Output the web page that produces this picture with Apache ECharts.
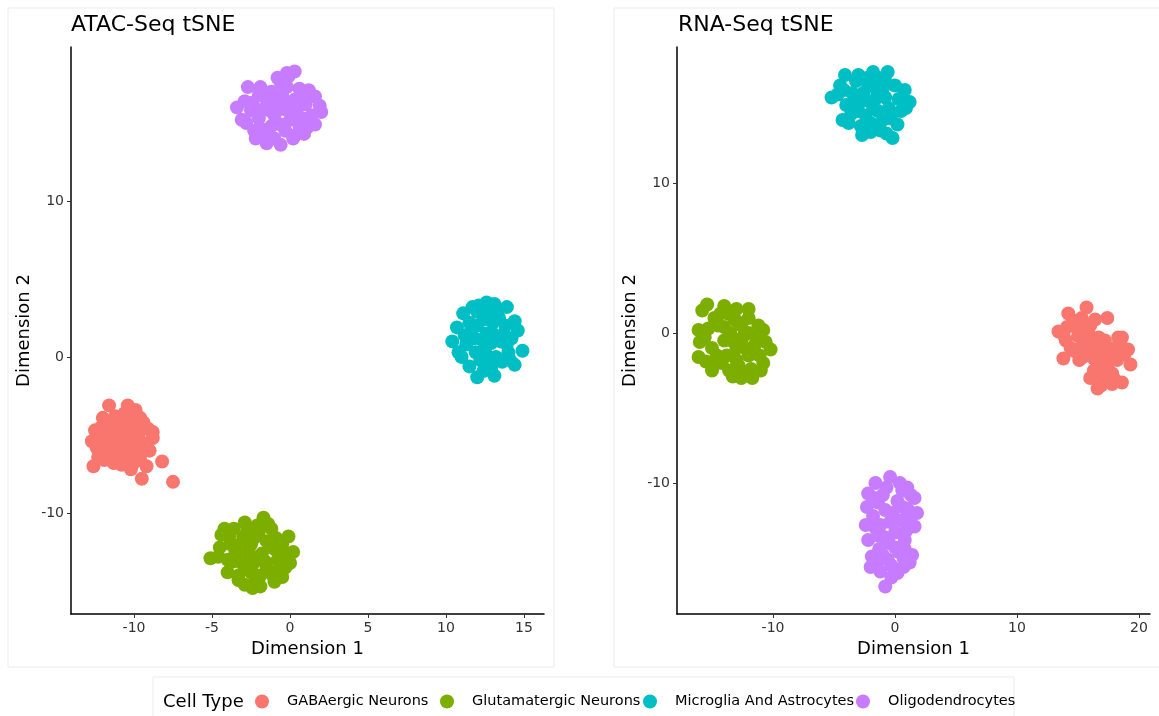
<!DOCTYPE html>
<html>
<head>
<meta charset="utf-8">
<title>ATAC-Seq / RNA-Seq tSNE</title>
<script src="https://cdn.jsdelivr.net/npm/echarts@6/dist/echarts.min.js"></script>
<style>
  html, body { margin: 0; padding: 0; background: #ffffff; }
  #chart { width: 1159px; height: 716px; }
</style>
</head>
<body>
<div id="chart"></div>
<script>
// Cell type categories and their colours
const cellTypes = ['GABAergic Neurons', 'Glutamatergic Neurons', 'Microglia And Astrocytes', 'Oligodendrocytes'];
const cellColors = ['#F8766D', '#7CAE00', '#00BFC4', '#C77CFF'];

// Tick values for each panel
const atacXTicks = [-10, -5, 0, 5, 10, 15];
const atacYTicks = [-10, 0, 10];
const rnaXTicks = [-10, 0, 10, 20];
const rnaYTicks = [-10, 0, 10];

// ATAC-Seq tSNE embedding, [Dimension 1, Dimension 2]
const atacGaba = [
  [-11.6,-3.1],[-10.4,-3.1],[-12.0,-3.9],[-9.6,-3.9],[-12.5,-4.7],[-12.7,-5.4],[-8.8,-4.8],[-8.8,-5.2],
  [-9.0,-6.0],[-8.2,-6.7],[-7.5,-8.0],[-9.5,-7.8],[-12.6,-7.0],[-12.3,-6.4],[-9.2,-7.0],[-10.1,-6.9],
  [-10.9,-6.6],[-11.0,-4.5],[-10.5,-5.0],[-11.5,-5.5],[-10.0,-5.8],[-11.8,-4.8],[-10.8,-6.0],[-9.8,-4.5],
  [-11.2,-3.8],[-10.2,-4.0],[-12.0,-6.0],[-11.5,-6.3],[-10.5,-6.5],[-9.5,-5.5],[-10.0,-6.3],[-11.0,-5.0],
  [-10.7,-4.3],[-9.3,-6.0],[-12.2,-5.2],[-11.3,-6.8],[-9.7,-5.0],
  [-11.4,-4.2],[-10.9,-5.4],[-10.3,-5.4],[-11.7,-5.9],[-10.6,-3.6],[-9.9,-3.4],[-11.9,-4.3],[-12.4,-5.8],
  [-11.1,-6.2],[-10.2,-7.2],[-9.6,-6.6],[-9.1,-4.6],[-10.4,-4.6],[-11.6,-5.1],[-12.1,-4.5],[-9.9,-5.2],
  [-10.8,-6.9],[-11.9,-6.6],[-9.4,-4.2],[-10.0,-3.7]
];
const atacGlut = [
  [-5.1,-12.9],[-4.2,-11.0],[-4.4,-11.4],[-2.9,-10.6],[-1.7,-10.3],[-0.1,-11.5],[0.2,-12.5],[0.0,-13.2],
  [-0.5,-14.1],[-2.4,-14.8],[-1.9,-14.7],[-3.3,-14.3],[-4.0,-13.8],[-1.1,-14.0],[-4.5,-12.2],[-3.0,-11.5],
  [-2.0,-11.2],[-1.5,-11.8],[-2.5,-12.0],[-3.5,-12.5],[-1.0,-12.3],[-2.0,-13.0],[-3.0,-13.3],[-1.5,-13.5],
  [-2.5,-13.8],[-0.8,-13.0],[-3.8,-12.0],[-2.7,-11.0],[-1.2,-11.0],[-0.5,-12.0],[-3.3,-14.0],[-2.2,-14.2],
  [-1.8,-12.6],[-4.0,-13.0],[-0.7,-13.6],
  [-2.3,-11.6],[-3.2,-12.0],[-1.3,-12.1],[-2.6,-12.6],[-1.6,-13.1],[-3.6,-13.1],[-2.8,-13.6],[-0.4,-12.7],
  [-1.0,-14.4],[-2.9,-14.6],[-3.9,-11.5],[-2.1,-10.8],[-0.9,-11.6],[-4.6,-12.8],[-3.1,-12.8],[-1.9,-14.0],
  [-0.3,-13.5],[-2.4,-13.3],[-3.6,-11.0],[-1.4,-10.7]
];
const atacMicro = [
  [12.0,-1.3],[13.1,-1.2],[14.4,-0.5],[14.9,0.4],[14.6,1.7],[13.9,3.2],[12.6,3.5],[11.7,3.2],
  [11.1,2.8],[10.7,1.9],[10.4,1.0],[10.8,0.3],[11.5,-0.6],[12.0,2.0],[13.0,2.2],[13.5,1.0],
  [12.5,0.5],[11.8,1.2],[13.8,2.0],[12.2,-0.2],[13.2,0.0],[14.0,0.3],[12.8,2.8],[11.5,2.2],
  [12.6,1.5],[13.6,-0.3],[11.3,0.8],[14.2,1.2],[12.0,2.9],[13.3,3.0],[12.9,-0.7],
  [12.3,1.1],[13.0,1.5],[12.7,0.0],[11.9,0.3],[13.4,2.5],[12.4,2.4],[14.1,-0.2],[11.6,1.6],
  [13.7,1.5],[12.1,3.3],[11.2,1.4],[13.9,0.8],[12.9,0.9],[12.4,-0.9],[14.4,2.3],[11.0,0.0],
  [13.1,3.4],[12.6,3.0]
];
const atacOligo = [
  [-2.7,17.3],[0.3,18.3],[-0.2,18.2],[-0.8,17.9],[-3.4,16.0],[-3.1,15.2],[-2.4,16.3],[-2.2,14.0],
  [-1.5,13.7],[-0.6,13.6],[0.3,14.2],[1.1,14.7],[2.0,15.7],[1.6,16.7],[1.2,17.1],[-1.5,16.5],
  [-0.5,16.8],[0.5,16.0],[-1.0,15.5],[-2.0,15.3],[0.0,15.2],[-0.3,14.5],[-1.8,14.6],[0.8,15.3],
  [-1.2,17.0],[-0.8,16.2],[0.3,16.5],[-2.5,15.8],[1.0,16.2],[-1.5,14.2],[0.6,14.8],[-0.2,17.3],
  [-1.0,14.0],[1.4,15.5],[-2.8,15.0],
  [-1.3,15.8],[-0.4,15.9],[-0.9,16.8],[0.1,15.7],[-1.7,15.9],[-0.6,14.9],[0.9,16.8],[-2.0,16.8],
  [-1.2,14.8],[0.2,14.0],[-2.3,14.5],[1.6,14.9],[-0.1,18.0],[-0.6,17.6],[0.6,17.2],[-1.9,17.3],
  [-2.9,16.4],[1.9,16.1],[-0.3,16.3],[0.9,14.3]
];

// RNA-Seq tSNE embedding, [Dimension 1, Dimension 2]
const rnaGaba = [
  [15.7,1.7],[14.2,1.3],[17.4,1.0],[13.4,0.1],[13.8,-1.7],[15.4,-1.6],[18.6,-0.3],[19.1,-1.1],
  [19.3,-2.1],[18.6,-3.3],[16.6,-3.7],[16.0,-3.0],[14.5,0.5],[15.0,-0.2],[14.0,-0.5],[15.5,0.3],
  [16.0,-0.5],[16.5,-1.0],[17.0,-1.5],[17.5,-2.0],[18.0,-1.0],[17.2,-0.5],[16.8,-2.3],[17.8,-2.7],
  [18.2,-1.8],[16.3,-1.7],[15.2,-1.0],[14.7,-1.2],[18.5,-0.8],[17.0,-2.9],[16.0,0.5],[15.8,-0.8],
  [14.8,0.8],[15.3,1.0],[14.1,0.4],[15.9,-0.1],[16.7,-0.3],[17.4,-1.1],[18.3,-0.3],[16.3,-2.5],
  [17.3,-2.4],[18.0,-3.1],[16.9,-3.5],[15.6,-1.3],[14.4,-1.0],[13.8,-0.1],[16.4,0.9],[17.6,-1.6],
  [18.8,-1.4],[16.9,-0.9],[15.1,-1.8],[17.8,-3.4]
];
const rnaGlut = [
  [-15.4,1.9],[-12.0,1.6],[-16.1,0.2],[-16.0,-0.6],[-16.1,-1.6],[-15.0,-2.5],[-13.3,-2.9],[-11.7,-3.0],
  [-10.8,-2.0],[-10.2,-1.1],[-10.8,0.2],[-14.3,1.3],[-13.7,1.3],[-14.5,0.5],[-13.0,0.8],[-12.0,0.0],
  [-14.0,-0.5],[-13.0,-1.0],[-12.0,-1.5],[-15.0,-1.0],[-14.2,-2.0],[-12.8,-2.2],[-11.5,-0.8],[-13.5,0.0],
  [-15.3,0.3],[-12.5,-0.3],[-11.2,0.5],[-14.8,1.0],[-13.8,-1.5],[-11.8,-2.4],[-13.2,1.0],
  [-14.0,0.4],[-13.4,-0.5],[-12.6,0.5],[-12.3,-1.0],[-14.6,-1.5],[-13.6,-2.5],[-12.3,-2.7],[-11.1,-1.5],
  [-15.6,-0.3],[-14.9,-2.0],[-13.0,1.6],[-12.0,1.0],[-11.4,-0.2],[-15.8,1.5],[-14.0,1.8],[-13.0,-1.8],
  [-15.5,-1.9],[-11.0,-2.5],[-12.6,-3.0],[-10.6,-0.6]
];
const rnaMicro = [
  [-4.1,17.2],[-1.8,17.4],[-0.6,17.4],[-5.2,15.7],[0.8,16.2],[1.2,15.4],[-4.3,14.2],[-2.7,13.2],
  [-0.2,13.0],[0.2,13.9],[-2.3,17.0],[-3.5,16.0],[-2.5,15.5],[-1.5,16.2],[-0.5,15.0],[-3.0,14.8],
  [-1.0,14.2],[-2.0,14.0],[-4.0,15.2],[0.0,16.5],[-1.8,15.0],[-3.2,16.8],[-0.8,16.8],[-2.8,13.8],
  [-1.2,13.5],[-4.5,16.5],[0.5,14.8],[-2.2,16.5],[-3.8,14.0],
  [-2.6,16.0],[-1.6,15.6],[-3.4,15.4],[-0.8,15.7],[-2.4,14.5],[-1.4,14.8],[-0.3,14.3],[-3.0,17.2],
  [-1.3,17.0],[-4.7,15.9],[0.3,15.6],[-3.6,14.6],[-2.0,13.4],[-0.7,13.3],[-4.2,16.2],[-1.0,16.3],
  [-2.9,15.8],[0.9,15.0]
];
const rnaOligo = [
  [-0.4,-9.6],[-1.6,-10.0],[-2.2,-10.7],[1.0,-10.3],[1.6,-11.0],[-2.3,-11.6],[1.8,-12.0],[1.6,-12.9],
  [-2.2,-13.8],[-2.0,-15.6],[0.2,-16.0],[1.4,-14.8],[1.2,-15.3],[-0.8,-16.9],[-1.0,-10.8],[0.2,-11.2],
  [-0.8,-11.8],[0.5,-12.5],[-1.2,-12.8],[0.0,-13.3],[-0.5,-14.0],[0.8,-13.8],[-1.0,-14.8],[0.3,-14.6],
  [-1.5,-15.3],[-0.3,-15.5],[0.6,-10.5],[-1.8,-12.2],[1.0,-11.7],[-0.2,-12.0],[-1.4,-13.5],[0.7,-15.0],
  [-0.7,-10.3],[0.4,-10.0],[-1.4,-11.3],[0.6,-11.6],[-0.4,-12.6],[1.2,-12.4],[-1.6,-13.0],[0.9,-13.2],
  [-0.9,-13.6],[0.0,-14.3],[-1.3,-14.4],[0.8,-14.4],[-1.9,-14.9],[-0.6,-15.1],[0.7,-15.6],[-1.2,-15.9],
  [-0.3,-16.3],[-1.7,-11.0],[1.3,-10.8],[-2.4,-12.8]
];

const atacSets = [atacGaba, atacGlut, atacMicro, atacOligo];
const rnaSets = [rnaGaba, rnaGlut, rnaMicro, rnaOligo];

const FONT = 'DejaVu Sans';
const panelBorder = '#ebebeb';

function xAxisFor(gridIndex, min, max, ticks) {
  return {
    type: 'value', gridIndex: gridIndex, min: min, max: max,
    name: 'Dimension 1', nameLocation: 'middle', nameGap: 25,
    nameTextStyle: { fontFamily: FONT, fontSize: 18, color: '#000' },
    splitLine: { show: false },
    axisLine: { show: true, onZero: false, lineStyle: { color: '#000', width: 1.5 } },
    axisTick: { show: true, length: 4, customValues: ticks, lineStyle: { color: '#333', width: 1 } },
    axisLabel: { customValues: ticks, margin: 7, fontFamily: FONT, fontSize: 14, color: '#333' }
  };
}
function yAxisFor(gridIndex, min, max, ticks) {
  return {
    type: 'value', gridIndex: gridIndex, min: min, max: max,
    name: 'Dimension 2', nameLocation: 'middle', nameGap: 38, nameRotate: 90,
    nameTextStyle: { fontFamily: FONT, fontSize: 18, color: '#000' },
    splitLine: { show: false },
    axisLine: { show: true, onZero: false, lineStyle: { color: '#000', width: 1.5 } },
    axisTick: { show: true, length: 4, customValues: ticks, lineStyle: { color: '#333', width: 1 } },
    axisLabel: { customValues: ticks, margin: 7, fontFamily: FONT, fontSize: 14, color: '#333' }
  };
}

const series = [];
[atacSets, rnaSets].forEach(function (sets, g) {
  sets.forEach(function (pts, i) {
    series.push({
      type: 'scatter', name: cellTypes[i], xAxisIndex: g, yAxisIndex: g,
      data: pts, symbolSize: 14,
      itemStyle: { color: cellColors[i], opacity: 1 },
      emphasis: { disabled: true }
    });
  });
});

// One legend entry per cell type, laid out along the bottom strip
const legendLefts = [250, 435, 638, 851];
const legends = cellTypes.map(function (name, i) {
  return {
    data: [{ name: name, icon: 'circle' }],
    left: legendLefts[i], top: 689, orient: 'horizontal',
    itemWidth: 14, itemHeight: 14, selectedMode: false,
    textStyle: { fontFamily: FONT, fontSize: 14.5, color: '#000', padding: [0, 0, 0, 13] }
  };
});

const chart = echarts.init(document.getElementById('chart'), null, { renderer: 'canvas' });
chart.setOption({
  backgroundColor: '#ffffff',
  animation: false,
  title: [
    { text: 'ATAC-Seq tSNE', left: 66, top: 9, textStyle: { fontFamily: FONT, fontSize: 22, fontWeight: 'normal', color: '#000' } },
    { text: 'RNA-Seq tSNE', left: 673, top: 9, textStyle: { fontFamily: FONT, fontSize: 22, fontWeight: 'normal', color: '#000' } }
  ],
  graphic: [
    { type: 'rect', shape: { x: 8, y: 8, width: 546, height: 659 }, style: { fill: 'none', stroke: panelBorder, lineWidth: 1 }, silent: true, z: -1 },
    { type: 'rect', shape: { x: 614, y: 8, width: 560, height: 659 }, style: { fill: 'none', stroke: panelBorder, lineWidth: 1 }, silent: true, z: -1 },
    { type: 'rect', shape: { x: 153, y: 677, width: 861, height: 60 }, style: { fill: 'none', stroke: panelBorder, lineWidth: 1 }, silent: true, z: -1 },
    { type: 'text', x: 163, y: 702, style: { text: 'Cell Type', font: '18px "DejaVu Sans"', fill: '#000', textVerticalAlign: 'middle' }, silent: true }
  ],
  legend: legends,
  grid: [
    { left: 71, top: 47, width: 473, height: 567, containLabel: false },
    { left: 677, top: 47, width: 473, height: 567, containLabel: false }
  ],
  xAxis: [
    xAxisFor(0, -14.04, 16.28, atacXTicks),
    xAxisFor(1, -17.87, 20.9, rnaXTicks)
  ],
  yAxis: [
    yAxisFor(0, -16.47, 19.87, atacYTicks),
    yAxisFor(1, -18.73, 19.07, rnaYTicks)
  ],
  series: series
});
</script>
</body>
</html>
